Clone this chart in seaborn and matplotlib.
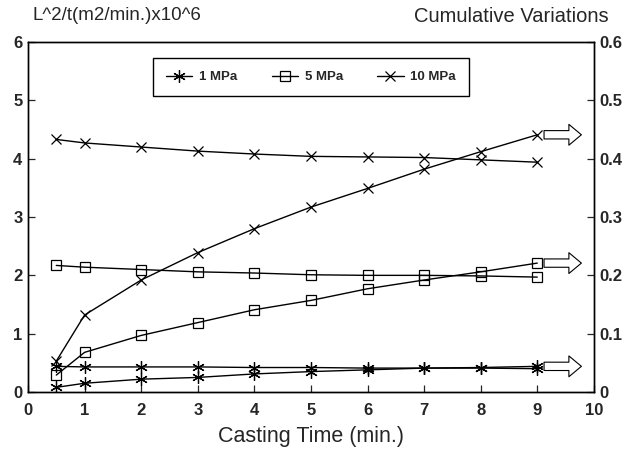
import matplotlib
matplotlib.use("Agg")
import matplotlib.pyplot as plt
from matplotlib.lines import Line2D
import pandas as pd
import seaborn as sns

# ---- data ----
time = [0.5, 1, 2, 3, 4, 5, 6, 7, 8, 9]
labels = ["1 MPa", "5 MPa", "10 MPa"]
# L^2/t (left axis)
rate_1 = [0.44, 0.43, 0.43, 0.43, 0.42, 0.42, 0.41, 0.41, 0.41, 0.40]
rate_5 = [2.17, 2.14, 2.10, 2.06, 2.04, 2.01, 2.00, 2.00, 1.99, 1.97]
rate_10 = [4.33, 4.27, 4.20, 4.13, 4.08, 4.04, 4.03, 4.02, 3.98, 3.94]
# cumulative variations (right axis)
cum_1 = [0.008, 0.015, 0.022, 0.025, 0.031, 0.035, 0.038, 0.041, 0.042, 0.044]
cum_5 = [0.029, 0.068, 0.097, 0.119, 0.141, 0.157, 0.177, 0.192, 0.206, 0.221]
cum_10 = [0.053, 0.132, 0.192, 0.239, 0.280, 0.317, 0.349, 0.382, 0.412, 0.441]
x_ticks = [0, 1, 2, 3, 4, 5, 6, 7, 8, 9, 10]
left_ticks = [0, 1, 2, 3, 4, 5, 6]
right_ticks = [0, 0.1, 0.2, 0.3, 0.4, 0.5, 0.6]
right_ticklabels = ["0", "0.1", "0.2", "0.3", "0.4", "0.5", "0.6"]

sns.set_style("ticks")
plt.rcParams["font.family"] = ["Liberation Sans", "DejaVu Sans"]

fig = plt.figure(figsize=(6.28, 4.51), dpi=100)
ax = fig.add_axes([0.0446, 0.1308, 0.901, 0.776])
ax2 = ax.twinx()

markers = [(6, 2, 0), "s", "x"]
msizes = [9, 7, 7.5]
rates = [rate_1, rate_5, rate_10]
cums = [cum_1, cum_5, cum_10]

for lab, m, ms, r, c in zip(labels, markers, msizes, rates, cums):
    df = pd.DataFrame({"t": time, "rate": r, "cum": c})
    kw = dict(color="black", lw=1.0, marker=m, markersize=ms,
              markerfacecolor="none", markeredgecolor="black",
              markeredgewidth=0.9, legend=False)
    sns.lineplot(data=df, x="t", y="rate", ax=ax, **kw)
    sns.lineplot(data=df, x="t", y="cum", ax=ax2, **kw)
    # hollow block arrow at the end of cumulative curve
    ax2.annotate("", xy=(time[-1] + 0.78, c[-1]), xytext=(time[-1] + 0.12, c[-1]),
                 arrowprops=dict(arrowstyle="simple,head_length=0.9,head_width=1.5,tail_width=0.6",
                                 fc="white", ec="black", lw=0.8, mutation_scale=10,
                                 shrinkA=0, shrinkB=0))

ax.set_xlim(0, 10)
ax.set_ylim(0, 6)
ax2.set_ylim(0, 0.6)
ax.set_xticks(x_ticks)
ax.set_yticks(left_ticks)
ax2.set_yticks(right_ticks)
ax2.set_yticklabels(right_ticklabels)

for a in (ax, ax2):
    a.tick_params(direction="in", length=5, width=0.9, labelsize=12)
    for lbl in a.get_xticklabels() + a.get_yticklabels():
        lbl.set_fontweight("bold")
    for s in a.spines.values():
        s.set_visible(True)
        s.set_linewidth(1.0)
        s.set_color("black")
ax.tick_params(axis="x", pad=8)
ax.tick_params(axis="y", pad=4)
ax2.tick_params(axis="y", pad=4)

ax.set_ylabel("")
ax2.set_ylabel("")
ax.set_xlabel("Casting Time (min.)", fontsize=15.5, labelpad=6)

fig.text(33 / 628, 1 - 16 / 451, "L^2/t(m2/min.)x10^6", fontsize=13.5, va="center", ha="left")
fig.text(609 / 628, 1 - 16 / 451, "Cumulative Variations", fontsize=14.5, va="center", ha="right")

handles = [Line2D([], [], color="black", lw=1.0, marker=m, markersize=ms,
                  markerfacecolor="none", markeredgecolor="black", markeredgewidth=0.9)
           for m, ms in zip(markers, msizes)]
leg = ax.legend(handles, labels, loc="upper center", bbox_to_anchor=(0.5, 0.955), ncol=3,
                frameon=True, fancybox=False, edgecolor="black", framealpha=1,
                prop={"weight": "bold", "size": 9.5}, handlelength=2.0, columnspacing=2.6,
                borderpad=1.0, handletextpad=0.5, borderaxespad=0)
leg.get_frame().set_linewidth(1.0)

fig.savefig("out.png", dpi=100)
